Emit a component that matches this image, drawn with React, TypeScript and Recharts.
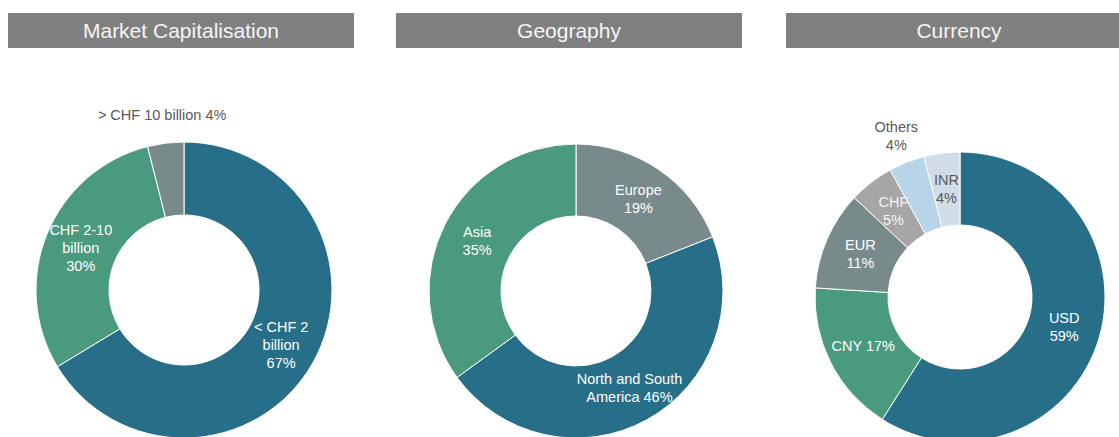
import React from "react";
import { PieChart, Pie, Cell } from "recharts";

// three donut charts: market cap, geography, currency breakdown

const capNames = ["< CHF 2 billion", "CHF 2-10 billion", "> CHF 10 billion"];
const capValues = [67, 30, 4];
const capLabels = ["< CHF 2\nbillion\n67%", "CHF 2-10\nbillion\n30%", "> CHF 10 billion 4%"];

const geoNames = ["Europe", "North and South America", "Asia"];
const geoValues = [19, 46, 35];
const geoLabels = ["Europe\n19%", "North and South\nAmerica 46%", "Asia\n35%"];

const curNames = ["USD", "CNY", "EUR", "CHF", "Others", "INR"];
const curValues = [59, 17, 11, 5, 4, 4];
const curLabels = ["USD\n59%", "CNY 17%", "EUR\n11%", "CHF\n5%", "Others\n4%", "INR\n4%"];

const titles = ["Market Capitalisation", "Geography", "Currency"];

const outsideLabels = ["> CHF 10 billion", "Others"];

const TEAL = "#276e89";
const GREEN = "#4a9a7e";
const SLATE = "#798a8a";

const capColors = [TEAL, GREEN, SLATE];
const geoColors = [SLATE, TEAL, GREEN];
const curColors = [TEAL, GREEN, SLATE, "#a6a6a6", "#b7d4e9", "#d0dce8"];
const curText = ["#fff", "#fff", "#fff", "#f4f4f4", "#595959", "#595959"];

const FONT = "'Liberation Sans', Arial, sans-serif";
const RADIAN = Math.PI / 180;

const toRows = (names: string[], values: number[], labels: string[]) =>
  names.map((name, i) => ({ name, value: values[i], label: labels[i] }));

const capData = toRows(capNames, capValues, capLabels);
const geoData = toRows(geoNames, geoValues, geoLabels);
const curData = toRows(curNames, curValues, curLabels);

const makeLabel = (textColors?: string[]) => (props: any) => {
  const { cx, cy, midAngle, innerRadius, outerRadius, index, payload } = props;
  const name = payload?.name ?? props.name;
  const text: string = payload?.label ?? props.label ?? "";
  const outside = outsideLabels.includes(name);
  const r = outside ? outerRadius + 28 : (innerRadius + outerRadius) / 2;
  const x = cx + r * Math.cos(-midAngle * RADIAN);
  const y = cy + r * Math.sin(-midAngle * RADIAN);
  const lines = text.split("\n");
  const lh = 18;
  const fill = outside ? "#595959" : textColors ? textColors[index] : "#fff";
  return (
    <text
      x={x}
      y={y - ((lines.length - 1) * lh) / 2}
      fill={fill}
      fontSize={14.5}
      fontFamily={FONT}
      textAnchor="middle"
      dominantBaseline="central"
    >
      {lines.map((l, i) => (
        <tspan key={i} x={x} dy={i === 0 ? 0 : lh}>
          {l}
        </tspan>
      ))}
    </text>
  );
};

const headerLefts = [8, 396, 786];

const App = () => {
  return (
    <div
      style={{
        position: "absolute",
        top: 0,
        left: 0,
        width: 1119,
        height: 437,
        overflow: "hidden",
        background: "#fff",
      }}
    >
      {titles.map((t, i) => (
        <div
          key={t}
          style={{
            position: "absolute",
            left: headerLefts[i],
            top: 13,
            width: 346,
            height: 35,
            lineHeight: "36px",
            background: "#808080",
            color: "#f5f5f5",
            fontFamily: FONT,
            fontSize: 21,
            textAlign: "center",
          }}
        >
          {t}
        </div>
      ))}
      <div style={{ position: "absolute", top: 0, left: 0 }}>
        <PieChart width={1119} height={437} margin={{ top: 0, right: 0, bottom: 0, left: 0 }}>
          <Pie
            data={capData}
            dataKey="value"
            nameKey="name"
            cx={184}
            cy={290}
            innerRadius={75}
            outerRadius={148}
            startAngle={90}
            endAngle={-270}
            stroke="#fff"
            strokeWidth={1}
            label={makeLabel()}
            labelLine={false}
            isAnimationActive={false}
          >
            {capData.map((d, i) => (
              <Cell key={d.name} fill={capColors[i]} />
            ))}
          </Pie>
          <Pie
            data={geoData}
            dataKey="value"
            nameKey="name"
            cx={576}
            cy={291}
            innerRadius={75}
            outerRadius={147}
            startAngle={90}
            endAngle={-270}
            stroke="#fff"
            strokeWidth={1}
            label={makeLabel()}
            labelLine={false}
            isAnimationActive={false}
          >
            {geoData.map((d, i) => (
              <Cell key={d.name} fill={geoColors[i]} />
            ))}
          </Pie>
          <Pie
            data={curData}
            dataKey="value"
            nameKey="name"
            cx={960}
            cy={297}
            innerRadius={72}
            outerRadius={145}
            startAngle={90}
            endAngle={-270}
            stroke="#fff"
            strokeWidth={1}
            label={makeLabel(curText)}
            labelLine={false}
            isAnimationActive={false}
          >
            {curData.map((d, i) => (
              <Cell key={d.name} fill={curColors[i]} />
            ))}
          </Pie>
        </PieChart>
      </div>
    </div>
  );
};

export default App;
